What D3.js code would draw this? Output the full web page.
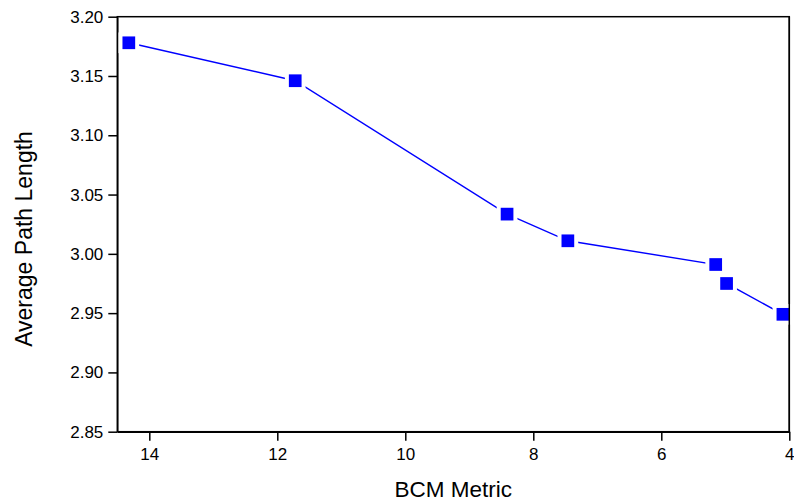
<!DOCTYPE html>
<html>
<head>
<meta charset="utf-8">
<script src="https://cdn.jsdelivr.net/npm/d3@7"></script>
<style>
  html, body { margin: 0; padding: 0; background: #fff; }
  svg { display: block; }
  text { font-family: "Liberation Sans", Arial, sans-serif; fill: #000; }
</style>
</head>
<body>
<svg id="chart" width="794" height="504"></svg>
<script>
const bcmMetric = [14.32, 11.72, 8.41, 7.46, 5.15, 4.98, 4.10];
const avgPathLength = [3.178, 3.146, 3.0335, 3.011, 2.991, 2.975, 2.949];
const xTicks = [14, 12, 10, 8, 6, 4];
const yTicks = [2.85, 2.90, 2.95, 3.00, 3.05, 3.10, 3.15, 3.20];
const xTitle = "BCM Metric";
const yTitle = "Average Path Length";

const W = 794, H = 504;
const m = { left: 117.3, right: 4.7, top: 16.7, bottom: 72.3 };
const iw = W - m.left - m.right, ih = H - m.top - m.bottom;

const svg = d3.select("#chart");
const g = svg.append("g").attr("transform", `translate(${m.left},${m.top})`);

const x = d3.scaleLinear().domain([14.5, 4]).range([0, iw]);
const y = d3.scaleLinear().domain([2.85, 3.20]).range([ih, 0]);

// frame
g.append("rect").attr("x", 0).attr("y", 0).attr("width", iw).attr("height", ih)
  .attr("fill", "none").attr("stroke", "#000").attr("stroke-width", 1.5);

const xAxis = g.append("g").attr("transform", `translate(0,${ih})`)
  .call(d3.axisBottom(x).tickValues(xTicks).tickFormat(d3.format("d")).tickSizeInner(9).tickSizeOuter(0).tickPadding(7));
const yAxis = g.append("g")
  .call(d3.axisLeft(y).tickValues(yTicks).tickFormat(d3.format(".2f")).tickSizeInner(9).tickSizeOuter(0).tickPadding(5));

[xAxis, yAxis].forEach(a => {
  a.select(".domain").attr("stroke", "#000").attr("stroke-width", 1.5);
  a.selectAll(".tick line").attr("stroke", "#000").attr("stroke-width", 1.5);
  a.selectAll(".tick text").attr("font-size", 17).attr("font-family", "Liberation Sans, Arial, sans-serif").attr("fill", "#000");
});

const pts = bcmMetric.map((d, i) => [x(d), y(avgPathLength[i])]);

g.append("path")
  .attr("d", d3.line()(pts))
  .attr("fill", "none").attr("stroke", "#0000ff").attr("stroke-width", 1.4);

const ms = 12.7;
g.selectAll("rect.pad").data(pts).enter().append("rect").attr("class", "pad")
  .attr("x", d => d[0] - ms / 2 - 4).attr("y", d => d[1] - ms / 2 - 4)
  .attr("width", ms + 8).attr("height", ms + 8).attr("fill", "#fff");
g.selectAll("rect.mk").data(pts).enter().append("rect").attr("class", "mk")
  .attr("x", d => d[0] - ms / 2).attr("y", d => d[1] - ms / 2)
  .attr("width", ms).attr("height", ms).attr("fill", "#0000ff");

// redraw right frame line over padding
g.append("line").attr("x1", iw).attr("x2", iw).attr("y1", 0).attr("y2", ih)
  .attr("stroke", "#000").attr("stroke-width", 1.5);

svg.append("text").attr("x", m.left + iw / 2).attr("y", 496.5)
  .attr("text-anchor", "middle").attr("font-size", 22.5).text(xTitle);
svg.append("text").attr("transform", `translate(31.5,239) rotate(-90)`)
  .attr("text-anchor", "middle").attr("font-size", 23).text(yTitle);
</script>
</body>
</html>
